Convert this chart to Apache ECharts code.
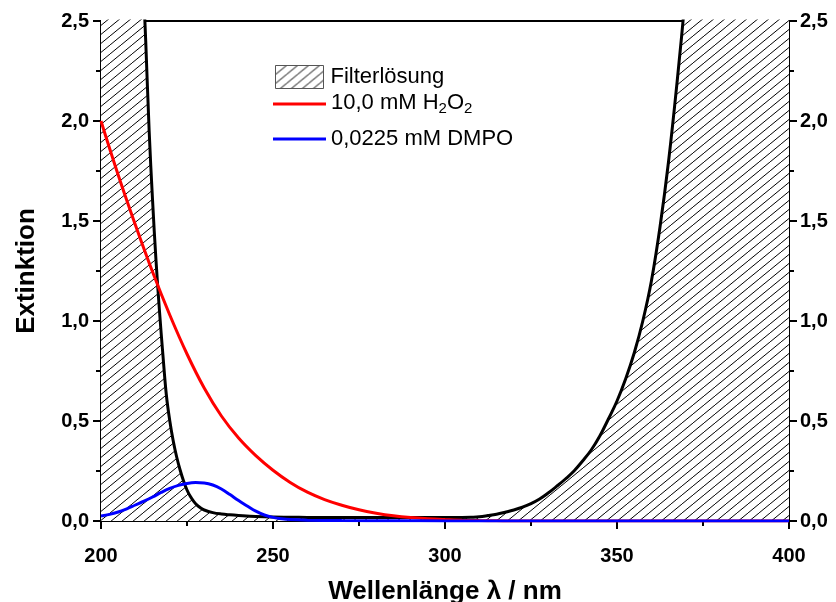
<!DOCTYPE html>
<html>
<head>
<meta charset="utf-8">
<script src="https://cdn.jsdelivr.net/npm/echarts@6/dist/echarts.min.js"></script>
<style>
html,body{margin:0;padding:0;background:#fff;}
#chart{width:836px;height:602px;}
</style>
</head>
<body>
<div id="chart"></div>
<script>
// ---- data ----
const xTicks = [200, 250, 300, 350, 400];
const yTicks = [0, 0.5, 1.0, 1.5, 2.0, 2.5];

// Filter solution absorbance (values above 2.5 are clipped by the axis)
const filterX = [200, 211, 212, 213, 214, 215, 216, 217, 218, 219, 220, 221, 222, 223, 224, 225, 226, 227, 228, 229, 230, 232.5, 235, 237.5, 240, 245, 250, 255, 260, 270, 280, 290, 300, 305, 307.5, 310, 312.5, 315, 317.5, 320, 322.5, 325, 327.5, 330, 332.5, 335, 337.5, 340, 342.5, 345, 347.5, 350, 352.5, 355, 357.5, 360, 362.5, 365, 367.5, 370, 372.5, 400];
const filterY = [3.5, 3.2, 2.8, 2.4, 1.95, 1.6, 1.3, 1.05, 0.83, 0.63, 0.5, 0.4, 0.32, 0.255, 0.2, 0.155, 0.122, 0.097, 0.078, 0.065, 0.055, 0.042, 0.035, 0.031, 0.028, 0.023, 0.02, 0.019, 0.018, 0.017, 0.017, 0.017, 0.017, 0.018, 0.019, 0.021, 0.027, 0.034, 0.044, 0.055, 0.069, 0.087, 0.11, 0.14, 0.174, 0.21, 0.25, 0.30, 0.355, 0.425, 0.51, 0.60, 0.71, 0.84, 1.0, 1.2, 1.47, 1.8, 2.2, 2.65, 3.15, 3.5];

// 10,0 mM H2O2
const h2o2X = [200, 205, 210, 215, 220, 225, 230, 235, 240, 245, 250, 255, 260, 265, 270, 275, 280, 285, 290, 295, 300, 305, 310, 315, 320, 400];
const h2o2Y = [2.0, 1.73, 1.48, 1.245, 1.03, 0.835, 0.665, 0.525, 0.415, 0.327, 0.254, 0.193, 0.144, 0.107, 0.079, 0.056, 0.039, 0.026, 0.017, 0.011, 0.007, 0.004, 0.002, 0.001, 0.0, 0.0];

// 0,0225 mM DMPO
const dmpoX = [200, 202.5, 205, 207.5, 210, 212.5, 215, 217.5, 220, 222.5, 225, 227.5, 230, 232.5, 235, 237.5, 240, 242.5, 245, 247.5, 250, 252.5, 255, 260, 270, 285, 300, 320, 400];
const dmpoY = [0.025, 0.033, 0.045, 0.061, 0.08, 0.099, 0.12, 0.143, 0.163, 0.178, 0.188, 0.192, 0.19, 0.18, 0.16, 0.132, 0.102, 0.075, 0.049, 0.03, 0.018, 0.011, 0.007, 0.004, 0.002, 0.001, 0.0005, 0, 0];

const seriesNames = ['Filterlösung', '10,0 mM H2O2', '0,0225 mM DMPO'];
const xName = 'Wellenlänge λ / nm';
const yName = 'Extinktion';

// ---- helpers ----
function pairs(xs, ys) { return xs.map((x, i) => [x, ys[i]]); }

function hatchCanvas() {
  const w = 11, h = 9;
  const c = document.createElement('canvas');
  c.width = w; c.height = h;
  const ctx = c.getContext('2d');
  ctx.fillStyle = '#ffffff';
  ctx.fillRect(0, 0, w, h);
  ctx.strokeStyle = '#000000';
  ctx.lineWidth = 1;
  for (const off of [-w, 0, w]) {
    ctx.beginPath();
    ctx.moveTo(off, h);
    ctx.lineTo(off + w, 0);
    ctx.stroke();
  }
  return c;
}
const hatch = { image: hatchCanvas(), repeat: 'repeat' };

const FONT = 'Liberation Sans, Arial, sans-serif';
const axisLineStyle = { color: '#000', width: 2 };

const chart = echarts.init(document.getElementById('chart'), null, { renderer: 'canvas' });

function yAxisDef(pos) {
  return {
    type: 'value', position: pos, min: 0, max: 2.5, interval: 0.5,
    axisLine: { show: true, onZero: false, lineStyle: axisLineStyle },
    axisTick: { show: true, inside: false, length: 8, lineStyle: { color: '#000', width: 2 } },
    minorTick: { show: true, splitNumber: 2, length: 5, lineStyle: { color: '#000', width: 2 } },
    splitLine: { show: false },
    axisLabel: {
      show: true, margin: pos === 'left' ? 12 : 11,
      fontSize: 20, fontWeight: 'bold', color: '#000', fontFamily: FONT,
      formatter: v => v.toFixed(1).replace('.', ',')
    },
    name: pos === 'left' ? yName : '',
    nameLocation: 'middle', nameGap: 61,
    nameTextStyle: { fontSize: 26, fontWeight: 'bold', color: '#000', fontFamily: FONT }
  };
}

const option = {
  animation: false,
  backgroundColor: '#fff',
  grid: { left: 101, right: 47, top: 21, bottom: 81, containLabel: false, outerBoundsMode: 'none' },
  legend: [
    {
      left: 270, top: 60, orient: 'vertical',
      itemWidth: 48, itemHeight: 23,
      data: [{ name: seriesNames[0], icon: 'rect', itemStyle: { color: hatch, borderColor: '#555', borderWidth: 1 } }],
      textStyle: { fontSize: 22, color: '#000', fontFamily: FONT, padding: [0, 0, 0, 2] },
      selectedMode: false
    },
    {
      left: 268, top: 87, orient: 'vertical',
      itemWidth: 53, itemHeight: 3,
      data: [{ name: seriesNames[1], icon: 'rect' }],
      formatter: () => '{a|10,0 mM H}{s|2}{a|O}{s|2}',
      textStyle: {
        fontSize: 22, color: '#000', fontFamily: FONT,
        rich: {
          a: { fontSize: 22, fontFamily: FONT, color: '#000', lineHeight: 24, verticalAlign: 'top', padding: [0, 0, 4, 0] },
          s: { fontSize: 15, fontFamily: FONT, color: '#000', lineHeight: 15, verticalAlign: 'bottom' }
        }
      },
      selectedMode: false
    },
    {
      left: 268, top: 122, orient: 'vertical',
      itemWidth: 53, itemHeight: 3,
      data: [{ name: seriesNames[2], icon: 'rect' }],
      textStyle: { fontSize: 22, color: '#000', fontFamily: FONT, lineHeight: 24 },
      selectedMode: false
    }
  ],
  xAxis: [
    {
      type: 'value', position: 'bottom', min: xTicks[0], max: xTicks[xTicks.length - 1], interval: 50,
      axisLine: { show: true, onZero: false, lineStyle: axisLineStyle },
      axisTick: { show: true, inside: false, length: 8, lineStyle: { color: '#000', width: 2 } },
      minorTick: { show: true, splitNumber: 2, length: 5, lineStyle: { color: '#000', width: 2 } },
      splitLine: { show: false },
      axisLabel: { show: true, margin: 25, fontSize: 20, fontWeight: 'bold', color: '#000', fontFamily: FONT },
      name: xName, nameLocation: 'middle', nameGap: 58,
      nameTextStyle: { fontSize: 26, fontWeight: 'bold', color: '#000', fontFamily: FONT }
    },
    {
      type: 'value', position: 'top', min: xTicks[0], max: xTicks[xTicks.length - 1], interval: 50,
      axisLine: { show: true, onZero: false, lineStyle: axisLineStyle },
      axisTick: { show: false }, axisLabel: { show: false }, splitLine: { show: false }
    }
  ],
  yAxis: [yAxisDef('left'), yAxisDef('right')],
  series: [
    {
      name: seriesNames[0], type: 'line', xAxisIndex: 0, yAxisIndex: 0,
      data: pairs(filterX, filterY),
      smooth: 0.4, showSymbol: false, symbol: 'none', clip: true,
      lineStyle: { color: '#000', width: 3 },
      itemStyle: { color: '#000' },
      areaStyle: { color: hatch, opacity: 1 },
      emphasis: { disabled: true }, z: 2
    },
    {
      name: seriesNames[1], type: 'line', xAxisIndex: 0, yAxisIndex: 0,
      data: pairs(h2o2X, h2o2Y),
      smooth: 0.4, showSymbol: false, symbol: 'none', clip: true,
      lineStyle: { color: '#ff0000', width: 3 },
      itemStyle: { color: '#ff0000' },
      emphasis: { disabled: true }, z: 3
    },
    {
      name: seriesNames[2], type: 'line', xAxisIndex: 0, yAxisIndex: 0,
      data: pairs(dmpoX, dmpoY),
      smooth: 0.4, showSymbol: false, symbol: 'none', clip: true,
      lineStyle: { color: '#0000ff', width: 3 },
      itemStyle: { color: '#0000ff' },
      emphasis: { disabled: true }, z: 4
    }
  ]
};
chart.setOption(option);
</script>
</body>
</html>
